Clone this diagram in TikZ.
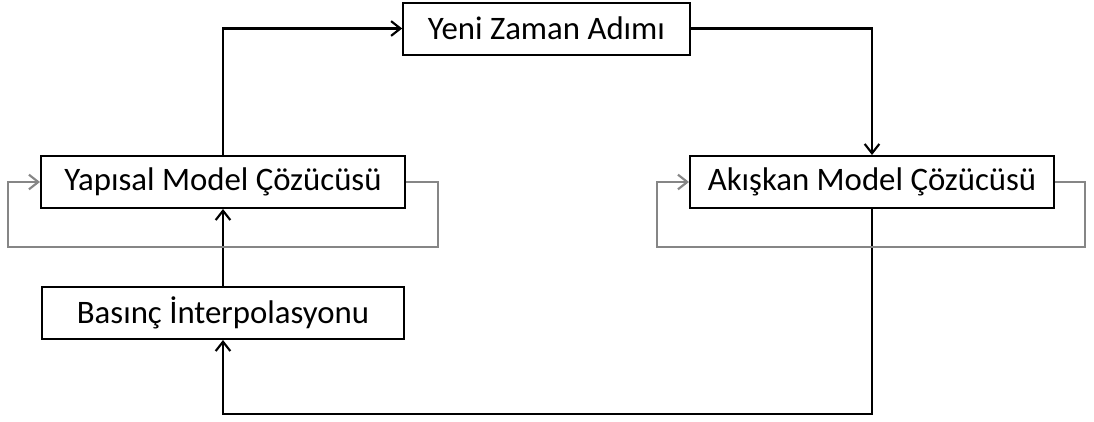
\documentclass[tikz,border=0pt]{standalone}
\usepackage{fontspec}
\setmainfont{Carlito}
\usetikzlibrary{arrows.meta}
\tikzset{
    solver/.style={draw=black, line width=1.5pt, fill=white, inner sep=0pt,
        minimum height=39pt, font=\fontsize{24.6}{30}\selectfont},
    flow/.style={line width=1.6pt, -{Straight Barb[length=7pt, width=11pt]}},
    iter/.style={flow, draw=gray!95}
}

\begin{document}
\begin{tikzpicture}[x=0.75pt, y=-0.75pt]

    \useasboundingbox (0,0) rectangle (1094,421);

    \node [solver, minimum width=215pt] (yeni) at (546.5,28.5) {Yeni Zaman Adımı};
    \node [solver, minimum width=273pt] (yapisal) at (223,182) {Yapısal Model Çözücüsü};
    \node [solver, minimum width=273pt] (akiskan) at (872,182) {Akışkan Model Çözücüsü};
    \node [solver, minimum width=271.5pt] (basinc) at (223,313) {Basınç İnterpolasyonu};

    \coordinate (dip) at (223,414);
    \coordinate (ys-r) at (438,247);
    \coordinate (ys-l) at (8,247);
    \coordinate (ak-r) at (1085,247);
    \coordinate (ak-l) at (657,247);

    % ana dongu
    \draw [flow] (yapisal.north) |- (yeni.west);
    \draw [flow] (yeni.east) -| (akiskan.north);
    \draw [flow] (akiskan.south) |- (dip) -- (basinc.south);
    \draw [flow] (basinc.north) -- (yapisal.south);

    % alt iterasyonlar
    \draw [iter] (yapisal.east) -| (ys-r) -- (ys-l) |- (yapisal.west);
    \draw [iter] (akiskan.east) -| (ak-r) -- (ak-l) |- (akiskan.west);

\end{tikzpicture}
\end{document}
